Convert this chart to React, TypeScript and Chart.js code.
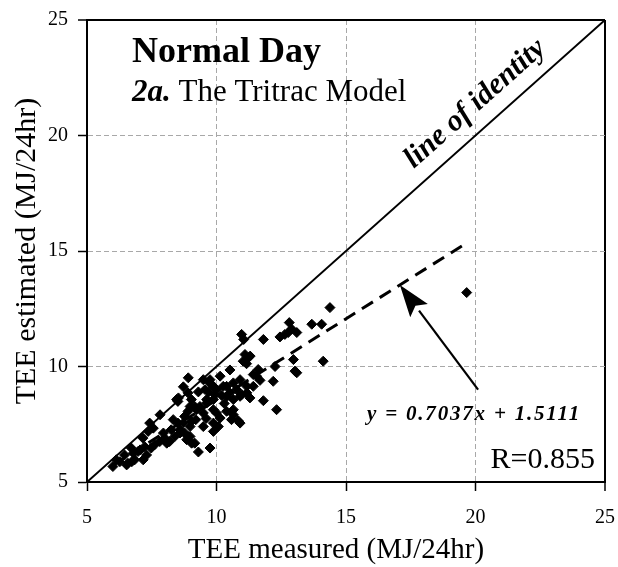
import React, { useEffect, useRef } from 'react';
import { Chart, registerables } from 'chart.js';

Chart.register(...registerables);

const SERIF = '"Liberation Serif", "Times New Roman", serif';

// TEE measured (x) and TEE estimated (y), MJ/24hr
const measured = [
  19.66, 14.38, 13.68, 14.06, 14.12, 12.81, 12.45, 12.77, 13.1, 12.64,
  12.9, 11.81, 10.97, 11.05, 11.1, 11.23, 11.03, 11.16, 11.3, 12.97,
  13.03, 12.26, 12.19, 13.1, 12.32, 11.81, 11.29, 10.91, 10.84, 10.65,
  11.61, 11.42, 11.68, 11.55, 11.42, 10.52, 10.14, 10.26, 10.52, 10.65,
  10.91, 11.17, 10.97, 9.75, 9.94, 9.56, 9.49, 8.91, 8.72, 9.75,
  9.88, 10.0, 10.39, 10.65, 10.78, 10.91, 11.17, 10.65, 10.58, 9.36,
  9.62, 9.88, 10.0, 10.14, 10.39, 9.88, 10.07, 9.49, 9.88, 9.62,
  9.88, 8.98, 9.23, 9.49, 8.46, 8.53, 8.33, 8.72, 8.98, 8.59,
  8.98, 9.75, 9.3, 7.82, 7.42, 7.36, 7.16, 6.71, 6.45, 6.13,
  6.0, 6.58, 6.84, 6.27, 6.97, 7.23, 7.48, 7.61, 7.81, 8.0,
  8.19, 8.39, 8.25, 8.58, 8.77, 8.9, 9.16, 9.03, 8.51, 8.77,
  8.9, 9.16, 9.03, 8.9, 7.17, 7.05, 7.3, 7.56, 7.95, 8.08,
  8.85, 9.04, 8.51, 6.79, 6.53, 6.73, 9.2, 9.6, 10.3, 10.4,
  9.3, 9.7, 10.2,
];
const estimated = [
  13.2, 12.55, 11.83, 11.83, 10.23, 11.9, 11.28, 11.47, 11.47, 11.39,
  11.62, 11.17, 11.39, 11.17, 10.52, 10.38, 10.23, 10.12, 10.45, 10.3,
  9.8, 10.0, 9.36, 9.73, 8.13, 8.52, 8.64, 7.55, 7.65, 7.91,
  9.87, 9.65, 9.4, 9.58, 9.14, 9.85, 9.58, 9.14, 8.86, 9.29,
  9.43, 9.14, 8.78, 9.43, 8.78, 9.0, 9.43, 9.51, 9.12, 9.29,
  9.14, 9.0, 9.14, 8.57, 9.0, 8.71, 8.86, 8.13, 7.7, 8.27,
  8.42, 8.13, 7.99, 7.77, 8.06, 7.55, 7.4, 7.4, 7.19, 8.57,
  8.57, 8.27, 8.13, 7.99, 8.57, 8.64, 7.7, 7.55, 7.4, 7.12,
  6.97, 6.47, 6.3, 7.91, 7.55, 7.19, 6.9, 6.47, 6.17, 5.96,
  5.67, 5.81, 5.96, 5.88, 6.32, 6.53, 6.47, 6.61, 6.75, 6.9,
  6.75, 6.97, 7.26, 7.26, 7.12, 6.97, 6.68, 7.62, 7.55, 7.84,
  8.06, 8.27, 8.57, 8.86, 5.96, 6.39, 6.17, 7.33, 7.12, 6.68,
  6.83, 6.68, 8.49, 6.25, 5.74, 5.88, 7.7, 7.75, 8.4, 8.7,
  8.9, 8.9, 8.75,
];

const xTickValues = [5, 10, 15, 20, 25];
const yTickValues = [5, 10, 15, 20, 25];
const identityRange = [5, 25];
const regSlope = 0.7037;
const regIntercept = 1.5111;
const regRange = [6, 19.5];
const arrowFrom = [20.1, 9.0];
const arrowToX = 17.08;
const identityLabelAt = 20.6;

const titleMain = 'Normal Day';
const subNum = '2a.';
const subText = ' The Tritrac Model';
const identityLabel = 'line of identity';
const equationLabel = 'y = 0.7037x + 1.5111';
const rLabel = 'R=0.855';
const xTitle = 'TEE measured (MJ/24hr)';
const yTitle = 'TEE estimated (MJ/24hr)';

const overlay = {
  id: 'overlay',
  afterDatasetsDraw(chart: any) {
    const { ctx, chartArea: a, scales } = chart;
    const x = scales.x, y = scales.y;
    ctx.save();
    ctx.fillStyle = '#000';
    ctx.strokeStyle = '#000';
    ctx.textAlign = 'left';
    ctx.textBaseline = 'alphabetic';
    ctx.font = `bold 36px ${SERIF}`;
    ctx.fillText(titleMain, a.left + 45, a.top + 42);
    ctx.font = `italic bold 31px ${SERIF}`;
    ctx.fillText(subNum, a.left + 45, a.top + 81);
    const w = ctx.measureText(subNum).width;
    ctx.font = `31px ${SERIF}`;
    ctx.fillText(subText, a.left + 45 + w, a.top + 81);

    // x axis title
    ctx.textAlign = 'center';
    ctx.font = `29px ${SERIF}`;
    ctx.fillText(xTitle, a.left + 249, a.bottom + 76);
    ctx.textAlign = 'left';

    // equation & R
    ctx.font = `italic bold 21px ${SERIF}`;
    try { (ctx as any).letterSpacing = '1.8px'; } catch (e) {}
    ctx.fillText(equationLabel, a.left + 280, a.top + 400);
    try { (ctx as any).letterSpacing = '0px'; } catch (e) {}
    ctx.font = `30px ${SERIF}`;
    ctx.textAlign = 'right';
    ctx.fillText(rLabel, a.right - 10, a.bottom - 14);

    // arrow
    const tx = x.getPixelForValue(arrowToX);
    const ty = y.getPixelForValue(regSlope * arrowToX + regIntercept);
    const fx = x.getPixelForValue(arrowFrom[0]);
    const fy = y.getPixelForValue(arrowFrom[1]);
    const ang = Math.atan2(ty - fy, tx - fx);
    const headLen = 32, headHalf = 11;
    const bx = tx - Math.cos(ang) * headLen;
    const by = ty - Math.sin(ang) * headLen;
    ctx.lineWidth = 2.2;
    ctx.beginPath();
    ctx.moveTo(fx, fy);
    ctx.lineTo(bx, by);
    ctx.stroke();
    ctx.beginPath();
    ctx.moveTo(tx, ty);
    ctx.lineTo(bx + Math.sin(ang) * headHalf, by - Math.cos(ang) * headHalf);
    ctx.lineTo(bx + Math.cos(ang) * 6, by + Math.sin(ang) * 6);
    ctx.lineTo(bx - Math.sin(ang) * headHalf, by + Math.cos(ang) * headHalf);
    ctx.closePath();
    ctx.fill();

    // identity label
    const ix = x.getPixelForValue(identityLabelAt);
    const iy = y.getPixelForValue(identityLabelAt);
    const lang = Math.atan2(
      y.getPixelForValue(identityRange[1]) - y.getPixelForValue(identityRange[0]),
      x.getPixelForValue(identityRange[1]) - x.getPixelForValue(identityRange[0])
    );
    ctx.translate(ix, iy);
    ctx.rotate(lang);
    ctx.font = `italic bold 30px ${SERIF}`;
    ctx.textAlign = 'center';
    ctx.textBaseline = 'alphabetic';
    ctx.fillText(identityLabel, 0, -16);
    ctx.restore();
  },
};

export default function App() {
  const ref = useRef<HTMLCanvasElement | null>(null);
  useEffect(() => {
    if (!ref.current) return;
    const edgeOrGrid = (v: number, lo: number, hi: number) =>
      v === hi ? '#000' : v === lo ? 'rgba(0,0,0,0)' : '#a8a8a8';
    const chart = new Chart(ref.current, {
      type: 'scatter',
      data: {
        datasets: [
          {
            label: 'identity',
            type: 'line',
            data: identityRange.map((v) => ({ x: v, y: v })),
            borderColor: '#000',
            borderWidth: 2,
            pointRadius: 0,
            fill: false,
          } as any,
          {
            label: 'regression',
            type: 'line',
            data: regRange.map((v) => ({ x: v, y: regSlope * v + regIntercept })),
            borderColor: '#000',
            borderWidth: 3,
            borderDash: [13, 8],
            pointRadius: 0,
            fill: false,
          } as any,
          {
            label: 'TEE',
            data: measured.map((v, i) => ({ x: v, y: estimated[i] })),
            pointStyle: 'rectRot',
            pointRadius: 5,
            backgroundColor: '#000',
            borderColor: '#000',
            borderWidth: 1,
          },
        ],
      },
      options: {
        animation: false,
        responsive: false,
        maintainAspectRatio: false,
        layout: { padding: { top: 20, right: 13, left: 0, bottom: 0 } },
        plugins: { legend: { display: false }, tooltip: { enabled: false } },
        scales: {
          x: {
            type: 'linear',
            min: 5,
            max: 25,
            afterBuildTicks: (s: any) => { s.ticks = xTickValues.map((v) => ({ value: v })); },
            afterFit: (s: any) => { s.height = 85; s.paddingLeft = 0; s.paddingRight = 0; },
            ticks: { color: '#000', font: { size: 20, family: SERIF }, padding: 15 },
            grid: {
              color: (c: any) => edgeOrGrid(c.tick ? c.tick.value : 0, 5, 25),
              lineWidth: (c: any) => (c.tick && c.tick.value === 25 ? 2 : 1),
              tickColor: '#000',
              tickLength: 9,
              tickWidth: 1.5,
            },
            border: {
              color: '#000',
              width: 2,
              dash: (c: any) => (c.tick && c.tick.value === 25 ? [] : [5, 3]),
            },
            title: { display: false, text: xTitle },
          },
          y: {
            type: 'linear',
            min: 5,
            max: 25,
            afterBuildTicks: (s: any) => { s.ticks = yTickValues.map((v) => ({ value: v })); },
            afterFit: (s: any) => { s.width = 87; s.paddingTop = 0; s.paddingBottom = 0; },
            ticks: { color: '#000', font: { size: 20, family: SERIF }, padding: 10 },
            grid: {
              color: (c: any) => edgeOrGrid(c.tick ? c.tick.value : 0, 5, 25),
              lineWidth: (c: any) => (c.tick && c.tick.value === 25 ? 2 : 1),
              tickColor: '#000',
              tickLength: 9,
              tickWidth: 1.5,
            },
            border: {
              color: '#000',
              width: 2,
              dash: (c: any) => (c.tick && c.tick.value === 25 ? [] : [5, 3]),
            },
            title: {
              display: true,
              text: yTitle,
              color: '#000',
              font: { size: 30, family: SERIF },
              padding: { top: 9, bottom: 0 },
            },
          },
        },
      },
      plugins: [overlay],
    } as any);
    return () => chart.destroy();
  }, []);
  return (
    <div style={{ position: 'fixed', left: 0, top: 0, width: 618, height: 567, background: '#fff' }}>
      <canvas ref={ref} width={618} height={567} style={{ display: 'block', width: 618, height: 567 }} />
    </div>
  );
}
